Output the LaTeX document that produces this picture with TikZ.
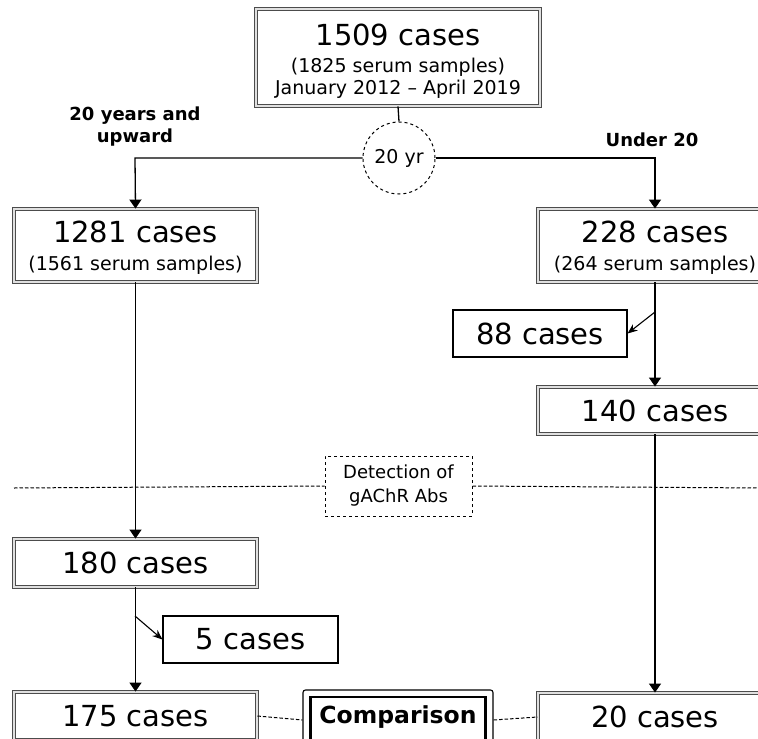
\documentclass[tikz,border=0pt]{standalone}
\usepackage{fontspec}
\setmainfont{DejaVu Sans}
\usetikzlibrary{arrows.meta}
\begin{document}
\begin{tikzpicture}[x=1pt,y=-1pt, font=\fontsize{19}{22}\selectfont,
 conn/.style={line width=1.3pt},
 arr/.style={conn,-{Triangle[width=12pt,length=9pt]}},
 darr/.style={line width=1.1pt,-{Stealth[width=8pt,length=10pt]}},
 dsh/.style={line width=1pt, dash pattern=on 3.5pt off 2pt},
 big/.style={font=\fontsize{29}{29}\selectfont},
 dbox/.style={draw=black!70, double=black!12, double distance=1.4pt, line width=0.9pt, fill=white, inner sep=0pt, align=center},
 sbox/.style={draw, line width=1.1pt, fill=white, inner sep=0pt, align=center, big},
 lab/.style={font=\bfseries\fontsize{18}{22}\selectfont, align=center}
]
\useasboundingbox (0,0) rectangle (758,739);
\fill[white] (0,0) rectangle (758,739);
\clip (0,0) rectangle (758,739);

% nodes
\node[dbox, minimum width=284pt, minimum height=97pt] (top) at (398,57.5)
  {\rule{0pt}{29pt}{\fontsize{29}{29}\selectfont 1509 cases}\\[5pt](1825 serum samples)\\January 2012 – April 2019};
\node[draw, circle, dashed, line width=1pt, minimum size=72pt, inner sep=0pt, fill=white] (yr) at (399,158) {20 yr};

\node[dbox, minimum width=243pt, minimum height=73pt] (n1281) at (135.5,245.5)
  {\rule{0pt}{26pt}{\fontsize{29}{29}\selectfont 1281 cases}\\[6pt](1561 serum samples)};
\node[dbox, minimum width=234pt, minimum height=73pt] (n228) at (655,245.5)
  {\rule{0pt}{26pt}{\fontsize{29}{29}\selectfont 228 cases}\\[6pt](264 serum samples)};

\node[sbox, minimum width=174pt, minimum height=47pt] (n88) at (540,333.5) {88 cases};
\node[dbox, big, minimum width=234pt, minimum height=47pt] (n140) at (655,410.5) {140 cases};

\node[draw, dashed, line width=1pt, fill=white, minimum width=147pt, minimum height=60pt, inner sep=0pt, align=center, font=\fontsize{18}{24}\selectfont] (det) at (398.5,486) {Detection of\\gAChR Abs};

\node[dbox, big, minimum width=243pt, minimum height=48pt] (n180) at (135.5,563) {180 cases};
\node[sbox, minimum width=175pt, minimum height=47pt] (n5) at (250.5,639.5) {5 cases};

\node[dbox, big, minimum width=243pt, minimum height=48pt] (n175) at (135.5,716) {175 cases};
\node[dbox, big, minimum width=234pt, minimum height=48pt] (n20) at (655,717) {20 cases};

\node[draw, line width=1.1pt, rounded corners=2.5pt, fill=white, minimum width=190pt, minimum height=60pt] (comp) at (398,720) {};
\node[draw, line width=2.8pt, minimum width=175pt, minimum height=50pt, inner sep=0pt, text height=18pt, text depth=16pt, font=\bfseries\fontsize{23.5}{26}\selectfont] (compin) at (398,722) {Comparison};

% labels
\node[lab] (lleft) at (135,127) {20 years and\\upward};
\node[lab] (lright) at (652,140) {Under 20};

% coordinates
\coordinate (cl) at (135,158);
\coordinate (cr) at (655,158);
\coordinate (b88) at (655,312);
\coordinate (b5) at (135,616);
\coordinate (dl) at (14,488);
\coordinate (dr) at (760,488);

% connectors
\draw[conn] (top.south) -- (yr.north);
\draw[arr] (yr.west) -- (cl) -- (n1281.north);
\draw[arr] (yr.east) -- (cr) -- (n228.north);
\draw[arr] (n228.south) -- (n140.north);
\draw[darr] (b88) -- (n88.east);
\draw[arr] (n140.south) -- (n20.north);
\draw[arr] (n1281.south) -- (n180.north);
\draw[arr] (n180.south) -- (n175.north);
\draw[darr] (b5) -- (n5.west);
\draw[dsh] (dl) -- (det.west);
\draw[dsh] (det.east) -- (dr);
\draw[dsh] (n175.east) -- (comp.west);
\draw[dsh] (comp.east) -- (n20.west);
\end{tikzpicture}
\end{document}
